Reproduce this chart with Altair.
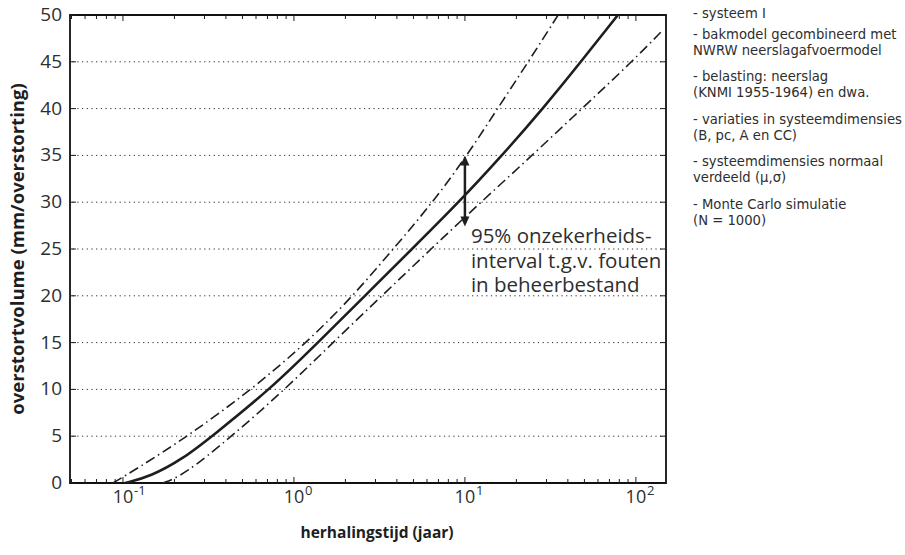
import altair as alt
import pandas as pd

# ---- data ----
solid_x = [0.103, 0.144, 0.225, 0.332, 0.724, 1.38, 2.60, 4.90, 9.22, 16.5, 28.6, 47.7, 78.5]
solid_y = [0, 0.67, 2.6, 5, 10, 15, 20, 25, 30, 35, 40, 45, 50]
upper_x = [0.0875, 0.12, 0.240, 0.566, 1.19, 2.22, 3.81, 6.50, 10.3, 15.5, 23.5, 35.1]
upper_y = [0, 1.5, 5, 10, 15, 20, 25, 30, 35, 40, 45, 50]
lower_x = [0.171, 0.225, 0.434, 0.886, 1.69, 3.27, 6.33, 12.4, 24.7, 48.3, 94.8, 144.0]
lower_y = [0, 0.8, 5, 10, 15, 20, 25, 30, 35, 40, 45, 48.4]

arrow_x = [10]
arrow_low = [27.4]
arrow_high = [35.0]

y_tick_values = [0, 5, 10, 15, 20, 25, 30, 35, 40, 45, 50]
y_grid_values = [5, 10, 15, 20, 25, 30, 35, 40, 45]
x_major_ticks = [0.1, 1, 10, 100]
x_major_exps = ["-1", "0", "1", "2"]
x_minor_ticks = [0.05, 0.06, 0.07, 0.08, 0.09,
                 0.2, 0.3, 0.4, 0.5, 0.6, 0.7, 0.8, 0.9,
                 2, 3, 4, 5, 6, 7, 8, 9,
                 20, 30, 40, 50, 60, 70, 80, 90]

annotation_lines = ["95% onzekerheids-", "interval t.g.v. fouten", "in beheerbestand"]

IND = "\u2009"
note_groups = [
    ["- systeem I"],
    ["- bakmodel gecombineerd met", IND + "NWRW neerslagafvoermodel"],
    ["- belasting: neerslag", IND + "(KNMI 1955-1964) en dwa."],
    ["- variaties in systeemdimensies", IND + "(B, pc, A en CC)"],
    ["- systeemdimensies normaal", IND + "verdeeld (\u03bc,\u03c3)"],
    ["- Monte Carlo simulatie", IND + "(N = 1000)"],
]

x_title = "herhalingstijd (jaar)"
y_title = "overstortvolume (mm/overstorting)"

# ---- layout / style ----
W, H = 596, 468
FONT = "Open Sans"
NOTE_FONT = "DejaVu Sans"
INK = "#1e1e1e"
TXT = "#2e2e2e"
xs = alt.Scale(type="log", domain=[0.049, 150], nice=False)
ys = alt.Scale(domain=[0, 50], nice=False, zero=False)

note_group_top = [1, 22, 64, 107, 149, 192]   # pixel y of first line centre (plot coords)
NOTE_X = W + 27
NOTE_LH = 15.5


def curve(xv, yv, width, dash=None):
    df = pd.DataFrame({"x": xv, "y": yv})
    kw = dict(interpolate="basis", color=INK, strokeWidth=width, clip=True)
    if dash is not None:
        kw["strokeDash"] = dash
    return alt.Chart(df).mark_line(**kw).encode(
        x=alt.X("x:Q", scale=xs, axis=None),
        y=alt.Y("y:Q", scale=ys, axis=None),
    )


grid = alt.Chart(pd.DataFrame({"v": y_grid_values})).mark_rule(
    color="#2a2a2a", strokeWidth=1, strokeDash=[1.2, 3.5]
).encode(y=alt.Y("v:Q", scale=ys, axis=None))

solid = curve(solid_x, solid_y, 2.6)
upper = curve(upper_x, upper_y, 1.6, dash=[10, 4, 1.5, 4])
lower = curve(lower_x, lower_y, 1.6, dash=[10, 4, 1.5, 4])

# ticks (inside, on all four sides)
maj_df = pd.DataFrame({"v": x_major_ticks, "e": x_major_exps})
min_df = pd.DataFrame({"v": x_minor_ticks})
yt_df = pd.DataFrame({"v": y_tick_values})


def xticks(df, y0, y1):
    return alt.Chart(df).mark_rule(color=INK, strokeWidth=1).encode(
        x=alt.X("v:Q", scale=xs, axis=None), y=alt.value(y0), y2=alt.value(y1))


def yticks(x0, x1):
    return alt.Chart(yt_df).mark_rule(color=INK, strokeWidth=1).encode(
        y=alt.Y("v:Q", scale=ys, axis=None), x=alt.value(x0), x2=alt.value(x1))


ticks = [xticks(maj_df, H, H - 6), xticks(maj_df, 0, 6),
         xticks(min_df, H, H - 4), xticks(min_df, 0, 4),
         yticks(0, 6), yticks(W, W - 6)]

# y tick labels
ylab = alt.Chart(yt_df).mark_text(
    font=FONT, fontSize=19, color=TXT, align="right", baseline="middle", dx=-8
).encode(y=alt.Y("v:Q", scale=ys, axis=None), x=alt.value(0), text="v:N")

# x tick labels 10^n
lab10 = alt.Chart(maj_df).mark_text(
    font=FONT, fontSize=18, color=TXT, align="center", baseline="alphabetic"
).encode(x=alt.X("v:Q", scale=xs, axis=None), y=alt.value(H + 20), text=alt.value("10"))
labexp = alt.Chart(maj_df).mark_text(
    font=FONT, fontSize=13, color=TXT, align="left", baseline="alphabetic", dx=11
).encode(x=alt.X("v:Q", scale=xs, axis=None), y=alt.value(H + 12), text="e:N")

# axis titles
xtit = alt.Chart(pd.DataFrame({"t": [x_title]})).mark_text(
    font=FONT, fontSize=15.5, fontWeight="bold", color=INK, align="center",
    baseline="alphabetic"
).encode(x=alt.value(W / 2 + 9), y=alt.value(H + 55), text="t:N")
ytit = alt.Chart(pd.DataFrame({"t": [y_title]})).mark_text(
    font=FONT, fontSize=18.5, fontWeight="bold", color=INK, align="center",
    baseline="middle", angle=270
).encode(x=alt.value(-52), y=alt.value(H / 2), text="t:N")

# arrow
arr_df = pd.DataFrame({"x": arrow_x, "lo": arrow_low, "hi": arrow_high})
shaft = alt.Chart(arr_df).transform_calculate(
    lo2="datum.lo + 0.9", hi2="datum.hi - 0.9"
).mark_rule(color=INK, strokeWidth=2.5).encode(
    x=alt.X("x:Q", scale=xs, axis=None),
    y=alt.Y("lo2:Q", scale=ys, axis=None), y2="hi2:Q")
head_up = alt.Chart(arr_df).mark_point(
    shape="M0,0L-0.45,1L0.45,1Z", size=400, filled=True, color=INK, opacity=1
).encode(x=alt.X("x:Q", scale=xs, axis=None), y=alt.Y("hi:Q", scale=ys, axis=None))
head_dn = alt.Chart(arr_df).mark_point(
    shape="M0,0L-0.45,-1L0.45,-1Z", size=400, filled=True, color=INK, opacity=1
).encode(x=alt.X("x:Q", scale=xs, axis=None), y=alt.Y("lo:Q", scale=ys, axis=None))

ann = alt.Chart(pd.DataFrame({"x": arrow_x, "y": [25.6],
                              "t": ["\n".join(annotation_lines)]})).mark_text(
    font=FONT, fontSize=20.5, color=TXT, align="left", baseline="alphabetic",
    dx=6, lineBreak="\n", lineHeight=24.3
).encode(x=alt.X("x:Q", scale=xs, axis=None),
         y=alt.Y("y:Q", scale=ys, axis=None), text="t:N")

# notes at the right, one text mark per group
notes = []
for lines, top in zip(note_groups, note_group_top):
    notes.append(
        alt.Chart(pd.DataFrame({"t": ["\n".join(lines)]})).mark_text(
            font=NOTE_FONT, fontSize=13.2, color=TXT, align="left", baseline="top",
            lineBreak="\n", lineHeight=NOTE_LH
        ).encode(x=alt.value(NOTE_X), y=alt.value(top - 8), text="t:N")
    )

chart = alt.layer(
    grid, upper, lower, solid, *ticks, ylab, lab10, labexp, xtit, ytit,
    shaft, head_up, head_dn, ann, *notes
).properties(
    width=W, height=H,
    padding={"left": 70, "top": 15, "right": 905 - 70 - W, "bottom": 555 - 15 - H},
    autosize="none",
    background="white",
).configure_view(stroke="#111111", strokeWidth=1.8)

chart.save("out.html", embed_options={"renderer": "svg", "actions": False})
